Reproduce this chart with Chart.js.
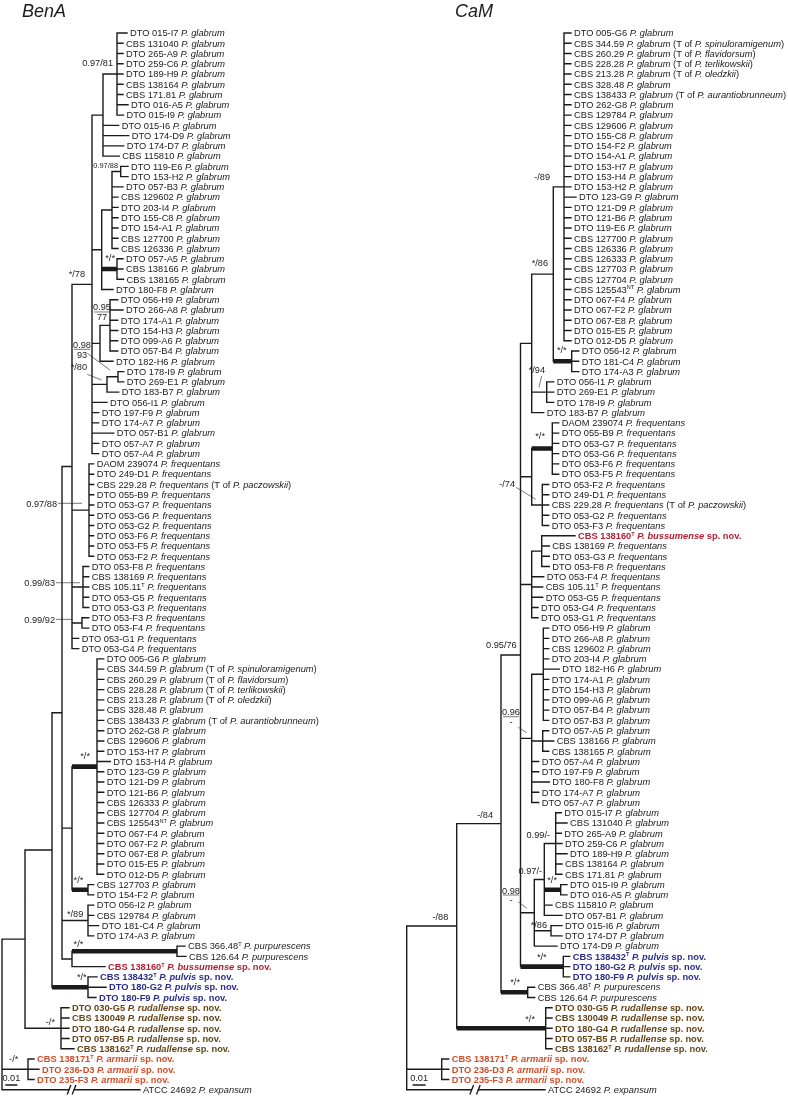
<!DOCTYPE html>
<html lang="en">
<head>
<meta charset="UTF-8">
<title>BenA and CaM phylogenies</title>
<script src="https://cdn.jsdelivr.net/npm/chart.js"></script>
<style>
  html, body { margin: 0; padding: 0; background: #fff; }
  #wrap { position: relative; width: 788px; height: 1097px; }
</style>
</head>
<body>
<div id="wrap"><canvas id="tree" width="788" height="1097"></canvas></div>
<script>
// ---------- data: leaf labels (*italic*, {superscript}) ----------
const benaLeaves = [
  "DTO 015-I7 *P. glabrum*", "CBS 131040 *P. glabrum*", "DTO 265-A9 *P. glabrum*", "DTO 259-C6 *P. glabrum*",
  "DTO 189-H9 *P. glabrum*", "CBS 138164 *P. glabrum*", "CBS 171.81 *P. glabrum*", "DTO 016-A5 *P. glabrum*",
  "DTO 015-I9 *P. glabrum*", "DTO 015-I6 *P. glabrum*", "DTO 174-D9 *P. glabrum*", "DTO 174-D7 *P. glabrum*",
  "CBS 115810 *P. glabrum*", "DTO 119-E6 *P. glabrum*", "DTO 153-H2 *P. glabrum*", "DTO 057-B3 *P. glabrum*",
  "CBS 129602 *P. glabrum*", "DTO 203-I4 *P. glabrum*", "DTO 155-C8 *P. glabrum*", "DTO 154-A1 *P. glabrum*",
  "CBS 127700 *P. glabrum*", "CBS 126336 *P. glabrum*", "DTO 057-A5 *P. glabrum*", "CBS 138166 *P. glabrum*",
  "CBS 138165 *P. glabrum*", "DTO 180-F8 *P. glabrum*", "DTO 056-H9 *P. glabrum*", "DTO 266-A8 *P. glabrum*",
  "DTO 174-A1 *P. glabrum*", "DTO 154-H3 *P. glabrum*", "DTO 099-A6 *P. glabrum*", "DTO 057-B4 *P. glabrum*",
  "DTO 182-H6 *P. glabrum*", "DTO 178-I9 *P. glabrum*", "DTO 269-E1 *P. glabrum*", "DTO 183-B7 *P. glabrum*",
  "DTO 056-I1 *P. glabrum*", "DTO 197-F9 *P. glabrum*", "DTO 174-A7 *P. glabrum*", "DTO 057-B1 *P. glabrum*",
  "DTO 057-A7 *P. glabrum*", "DTO 057-A4 *P. glabrum*",
  "DAOM 239074 *P. frequentans*", "DTO 249-D1 *P. frequentans*", "CBS 229.28 *P. frequentans* (T of *P. paczowskii*)",
  "DTO 055-B9 *P. frequentans*", "DTO 053-G7 *P. frequentans*", "DTO 053-G6 *P. frequentans*", "DTO 053-G2 *P. frequentans*",
  "DTO 053-F6 *P. frequentans*", "DTO 053-F5 *P. frequentans*", "DTO 053-F2 *P. frequentans*", "DTO 053-F8 *P. frequentans*",
  "CBS 138169 *P. frequentans*", "CBS 105.11{T} *P. frequentans*", "DTO 053-G5 *P. frequentans*", "DTO 053-G3 *P. frequentans*",
  "DTO 053-F3 *P. frequentans*", "DTO 053-F4 *P. frequentans*", "DTO 053-G1 *P. frequentans*", "DTO 053-G4 *P. frequentans*",
  "DTO 005-G6 *P. glabrum*", "CBS 344.59 *P. glabrum* (T of *P. spinuloramigenum*)", "CBS 260.29 *P. glabrum* (T of *P. flavidorsum*)",
  "CBS 228.28 *P. glabrum* (T of *P. terlikowskii*)", "CBS 213.28 *P. glabrum* (T of *P. oledzkii*)", "CBS 328.48 *P. glabrum*",
  "CBS 138433 *P. glabrum* (T of *P. aurantiobrunneum*)", "DTO 262-G8 *P. glabrum*", "CBS 129606 *P. glabrum*",
  "DTO 153-H7 *P. glabrum*", "DTO 153-H4 *P. glabrum*", "DTO 123-G9 *P. glabrum*", "DTO 121-D9 *P. glabrum*",
  "DTO 121-B6 *P. glabrum*", "CBS 126333 *P. glabrum*", "CBS 127704 *P. glabrum*", "CBS 125543{NT} *P. glabrum*",
  "DTO 067-F4 *P. glabrum*", "DTO 067-F2 *P. glabrum*", "DTO 067-E8 *P. glabrum*", "DTO 015-E5 *P. glabrum*",
  "DTO 012-D5 *P. glabrum*", "CBS 127703 *P. glabrum*", "DTO 154-F2 *P. glabrum*", "DTO 056-I2 *P. glabrum*",
  "CBS 129784 *P. glabrum*", "DTO 181-C4 *P. glabrum*", "DTO 174-A3 *P. glabrum*",
  "CBS 366.48{T} *P. purpurescens*", "CBS 126.64 *P. purpurescens*",
  "CBS 138160{T} *P. bussumense* sp. nov.",
  "CBS 138432{T} *P. pulvis* sp. nov.", "DTO 180-G2 *P. pulvis* sp. nov.", "DTO 180-F9 *P. pulvis* sp. nov.",
  "DTO 030-G5 *P. rudallense* sp. nov.", "CBS 130049 *P. rudallense* sp. nov.", "DTO 180-G4 *P. rudallense* sp. nov.",
  "DTO 057-B5 *P. rudallense* sp. nov.", "CBS 138162{T} *P. rudallense* sp. nov.",
  "CBS 138171{T} *P. armarii* sp. nov.", "DTO 236-D3 *P. armarii* sp. nov.", "DTO 235-F3 *P. armarii* sp. nov.",
  "ATCC 24692 *P. expansum*"
];

// tip depth of each leaf (1 unit = 0.01/10.7 substitutions)
const benaTips = [
  127, 123, 123, 123, 123, 123, 123, 128, 123.5, 118.7, 128.7, 123.7, 119.3,
  128, 128, 123, 118, 118, 118, 118, 118, 118, 123, 123, 123.5, 113,
  117.7, 123, 117.7, 117.7, 117.7, 117.7, 113, 123.7, 123.7, 118.7,
  107, 98.7, 98.7, 113.7, 98.7, 98.7,
  93.7, 93.7, 93.7, 93.7, 93.7, 93.7, 93.7, 93.7, 93.7, 93.7,
  88.7, 88.7, 88.7, 88.7, 88.7, 88.7, 88.7, 78.7, 78.7,
  103.7, 103.7, 103.7, 103.7, 103.7, 103.7, 103.7, 103.7, 103.7, 103.7, 110.3,
  103.7, 103.7, 103.7, 103.7, 103.7, 103.7, 103.7, 103.7, 103.7, 103.7, 103.7,
  93.7, 93.7, 93.7, 93.7, 98.7, 93.7,
  185, 186, 105, 97, 106, 96, 69, 69, 69, 69, 74, 34, 39, 34, 140
];

// clades: [first leaf, last leaf, node depth]
const benaClades = [
  [1, 9, 117], [1, 13, 103], [14, 15, 120.7], [14, 22, 112], [23, 25, 117], [14, 26, 101.7],
  [27, 32, 110], [27, 33, 100], [34, 35, 118], [34, 36, 107], [1, 42, 92], [43, 52, 89],
  [53, 57, 83], [58, 59, 82], [1, 61, 72], [62, 83, 97], [84, 85, 88], [62, 85, 72],
  [86, 89, 88], [90, 91, 177], [90, 92, 72], [1, 92, 62], [93, 95, 88], [1, 95, 52],
  [96, 100, 61], [1, 100, 25], [101, 103, 28], [1, 104, 2]
];
// clades with full support (bold branch)
const benaStrong = [4, 15, 16, 19, 22];

const camLeaves = [
  "DTO 005-G6 *P. glabrum*", "CBS 344.59 *P. glabrum* (T of *P. spinuloramigenum*)", "CBS 260.29 *P. glabrum* (T of *P. flavidorsum*)",
  "CBS 228.28 *P. glabrum* (T of *P. terlikowskii*)", "CBS 213.28 *P. glabrum* (T of *P. oledzkii*)", "CBS 328.48 *P. glabrum*",
  "CBS 138433 *P. glabrum* (T of *P. aurantiobrunneum*)", "DTO 262-G8 *P. glabrum*", "CBS 129784 *P. glabrum*",
  "CBS 129606 *P. glabrum*", "DTO 155-C8 *P. glabrum*", "DTO 154-F2 *P. glabrum*", "DTO 154-A1 *P. glabrum*",
  "DTO 153-H7 *P. glabrum*", "DTO 153-H4 *P. glabrum*", "DTO 153-H2 *P. glabrum*", "DTO 123-G9 *P. glabrum*",
  "DTO 121-D9 *P. glabrum*", "DTO 121-B6 *P. glabrum*", "DTO 119-E6 *P. glabrum*", "CBS 127700 *P. glabrum*",
  "CBS 126336 *P. glabrum*", "CBS 126333 *P. glabrum*", "CBS 127703 *P. glabrum*", "CBS 127704 *P. glabrum*",
  "CBS 125543{NT} *P. glabrum*", "DTO 067-F4 *P. glabrum*", "DTO 067-F2 *P. glabrum*", "DTO 067-E8 *P. glabrum*",
  "DTO 015-E5 *P. glabrum*", "DTO 012-D5 *P. glabrum*", "DTO 056-I2 *P. glabrum*", "DTO 181-C4 *P. glabrum*",
  "DTO 174-A3 *P. glabrum*", "DTO 056-I1 *P. glabrum*", "DTO 269-E1 *P. glabrum*", "DTO 178-I9 *P. glabrum*",
  "DTO 183-B7 *P. glabrum*",
  "DAOM 239074 *P. frequentans*", "DTO 055-B9 *P. frequentans*", "DTO 053-G7 *P. frequentans*", "DTO 053-G6 *P. frequentans*",
  "DTO 053-F6 *P. frequentans*", "DTO 053-F5 *P. frequentans*", "DTO 053-F2 *P. frequentans*", "DTO 249-D1 *P. frequentans*",
  "CBS 229.28 *P. frequentans* (T of *P. paczowskii*)", "DTO 053-G2 *P. frequentans*", "DTO 053-F3 *P. frequentans*",
  "CBS 138160{T} *P. bussumense* sp. nov.",
  "CBS 138169 *P. frequentans*", "DTO 053-G3 *P. frequentans*", "DTO 053-F8 *P. frequentans*", "DTO 053-F4 *P. frequentans*",
  "CBS 105.11{T} *P. frequentans*", "DTO 053-G5 *P. frequentans*", "DTO 053-G4 *P. frequentans*", "DTO 053-G1 *P. frequentans*",
  "DTO 056-H9 *P. glabrum*", "DTO 266-A8 *P. glabrum*", "CBS 129602 *P. glabrum*", "DTO 203-I4 *P. glabrum*",
  "DTO 182-H6 *P. glabrum*", "DTO 174-A1 *P. glabrum*", "DTO 154-H3 *P. glabrum*", "DTO 099-A6 *P. glabrum*",
  "DTO 057-B4 *P. glabrum*", "DTO 057-B3 *P. glabrum*", "DTO 057-A5 *P. glabrum*", "CBS 138166 *P. glabrum*",
  "CBS 138165 *P. glabrum*", "DTO 057-A4 *P. glabrum*", "DTO 197-F9 *P. glabrum*", "DTO 180-F8 *P. glabrum*",
  "DTO 174-A7 *P. glabrum*", "DTO 057-A7 *P. glabrum*", "DTO 015-I7 *P. glabrum*", "CBS 131040 *P. glabrum*",
  "DTO 265-A9 *P. glabrum*", "DTO 259-C6 *P. glabrum*", "DTO 189-H9 *P. glabrum*", "CBS 138164 *P. glabrum*",
  "CBS 171.81 *P. glabrum*", "DTO 015-I9 *P. glabrum*", "DTO 016-A5 *P. glabrum*", "CBS 115810 *P. glabrum*",
  "DTO 057-B1 *P. glabrum*", "DTO 015-I6 *P. glabrum*", "DTO 174-D7 *P. glabrum*", "DTO 174-D9 *P. glabrum*",
  "CBS 138432{T} *P. pulvis* sp. nov.", "DTO 180-G2 *P. pulvis* sp. nov.", "DTO 180-F9 *P. pulvis* sp. nov.",
  "CBS 366.48{T} *P. purpurescens*", "CBS 126.64 *P. purpurescens*",
  "DTO 030-G5 *P. rudallense* sp. nov.", "CBS 130049 *P. rudallense* sp. nov.", "DTO 180-G4 *P. rudallense* sp. nov.",
  "DTO 057-B5 *P. rudallense* sp. nov.", "CBS 138162{T} *P. rudallense* sp. nov.",
  "CBS 138171{T} *P. armarii* sp. nov.", "DTO 236-D3 *P. armarii* sp. nov.", "DTO 235-F3 *P. armarii* sp. nov.",
  "ATCC 24692 *P. expansum*"
];

const camTips = [
  181, 181, 181, 181, 181, 181, 181, 181, 181, 181, 181, 181, 181, 181, 181, 181, 186,
  181, 181, 181, 181, 181, 181, 181, 181, 181, 181, 181, 181, 181, 181,
  188.7, 188.7, 188.7, 163.7, 163.7, 163.7, 153.7,
  168.7, 168.7, 168.7, 168.7, 168.7, 168.7, 158.7, 158.7, 158.7, 158.7, 158.7,
  185, 159.3, 159.3, 159.3, 153.7, 152.7, 152.7, 148, 148,
  158.7, 158.7, 158.7, 158.7, 169.3, 158.7, 158.7, 158.7, 158.7, 158.7,
  158.7, 163.7, 158.7, 148.7, 148.7, 159.3, 148.7, 148.7,
  171.3, 177, 171.3, 172, 177, 172, 172, 177, 177, 162, 172, 172, 172, 167,
  179.7, 179.7, 179.7, 144.7, 144.7, 162, 162, 162, 162, 162, 58.7, 58.7, 58.7, 155
];

const camClades = [
  [1, 31, 174], [32, 34, 181.7], [1, 34, 163.3], [35, 37, 156.7], [1, 38, 141.7],
  [39, 44, 162.3], [45, 49, 152.3], [39, 49, 141.7], [50, 53, 151.7], [50, 58, 141.7],
  [59, 68, 153.3], [69, 71, 152.7], [59, 76, 141.7], [77, 83, 165.7], [84, 85, 170.7],
  [77, 87, 154.3], [88, 89, 161], [77, 90, 144.3], [91, 93, 173.3], [1, 93, 130.5],
  [94, 95, 137.7], [1, 95, 111], [96, 100, 155.7], [1, 100, 66.7], [101, 103, 51.7], [1, 104, 16.7]
];
const camStrong = [1, 5, 14, 18, 20, 22];

// support values: [text, right edge depth, row]
const benaSupport = [
  ["0.97/81", 113, 3.92], ["*/*", 115, 22.93], ["*/78", 85, 24.49], ["*/80", 87, 33.52],
  ["0.97/88", 57, 46.84], ["0.99/83", 55, 54.58], ["0.99/92", 55, 58.15], ["*/*", 90, 71.47],
  ["*/*", 83.3, 83.55], ["*/89", 83.3, 86.8], ["*/*", 83.3, 89.72], ["*/*", 86.7, 92.98],
  ["-/*", 55, 97.36], ["-/*", 18.3, 100.93]
];
const benaSmallSupport = [["0.97/88", 118, 13.93]];
// stacked values: [posterior, bootstrap, centre depth, row of bar]
const benaStacked = [["0.95", "77", 102, 28.19], ["0.98", "93", 82, 31.83]];
const benaLeaders = [[87.3, 32.22, 110, 33.85], [87.3, 34.27, 101.7, 34.82], [58, 46.84, 82, 46.84],
  [56, 54.58, 80, 54.58], [56, 58.15, 71.7, 58.15]];

const camSupport = [
  ["-/89", 160, 15.04], ["*/86", 158, 23.42], ["*/*", 176.7, 31.9], ["*/94", 155, 33.85],
  ["*/*", 155, 40.25], ["-/74", 125, 44.89], ["0.95/76", 126.7, 60.65], ["-/84", 103, 77.22],
  ["0.99/-", 160, 79.17], ["0.97/-", 152, 82.68], ["*/*", 167, 83.55], ["*/86", 157, 87.87],
  ["*/*", 156.7, 91.03], ["*/*", 130, 93.47], ["-/88", 58.3, 87.13], ["*/*", 145, 97.1]
];
const camStacked = [["0.96", "-", 121, 67.64], ["0.98", "-", 121, 85.02]];
const camLeaders = [[151.7, 34.43, 149, 35.53], [126, 45.28, 145.7, 46.45],
  [128.3, 68.67, 136.7, 69.2], [128.3, 85.67, 136.7, 86.31]];

// scale bars: [label, start, end, row]
const benaScale = ["0.01", 6, 16.7, 103.53];
const camScale = ["0.01", 23.3, 35, 103.53];

// ---------- layout / style ----------
const W = 788, H = 1097, ROW_PX = 10.26, FIRST_Y = 33;
const Y_MIN = 1 - FIRST_Y / ROW_PX, Y_MAX = Y_MIN + H / ROW_PX;
const INK = '#1c1a1b';
const FONT = '"Liberation Sans", Arial, Helvetica, sans-serif';
const LEAF_SIZE = 9.3;
const speciesColor = { bussumense: '#b31f32', pulvis: '#2b2d8a', rudallense: '#634519', armarii: '#d24d2a' };

const panels = [
  { title: 'BenA', off: 0, titleX: 22, leaves: benaLeaves, tips: benaTips, clades: benaClades, strong: benaStrong,
    support: benaSupport, small: benaSmallSupport, stacked: benaStacked, leaders: benaLeaders, scale: benaScale, gap: [69, 74] },
  { title: 'CaM', off: 390, titleX: 65, leaves: camLeaves, tips: camTips, clades: camClades, strong: camStrong,
    support: camSupport, small: [], stacked: camStacked, leaders: camLeaders, scale: camScale, gap: [81.7, 88.3] }
];

function buildTree(p) {
  const nodes = p.clades.map((c, i) => ({ a: c[0], b: c[1], x: c[2], strong: p.strong.includes(i), kids: [] }));
  const size = nd => nd.b - nd.a;
  const parentOf = (a, b, self) => {
    let best = -1;
    nodes.forEach((nd, j) => {
      if (j === self || nd.a > a || nd.b < b) return;
      if (best < 0 || size(nd) < size(nodes[best])) best = j;
    });
    return best;
  };
  nodes.forEach((nd, i) => {
    const par = parentOf(nd.a, nd.b, i);
    if (par >= 0) nodes[par].kids.push({ clade: i, first: nd.a });
  });
  p.tips.forEach((t, k) => {
    const par = parentOf(k + 1, k + 1, -1);
    nodes[par].kids.push({ leaf: k + 1, first: k + 1 });
  });
  const kidY = k => ('leaf' in k) ? k.leaf : nodes[k.clade].y;
  const kidX = k => ('leaf' in k) ? p.tips[k.leaf - 1] : nodes[k.clade].x;
  nodes.map((_, i) => i).sort((u, v) => size(nodes[u]) - size(nodes[v])).forEach(i => {
    const nd = nodes[i];
    nd.kids.sort((u, v) => u.first - v.first);
    nd.y = (kidY(nd.kids[0]) + kidY(nd.kids[nd.kids.length - 1])) / 2;
  });

  const thin = [], thick = [];
  const last = p.tips.length;
  nodes.forEach(nd => {
    thin.push([nd.x, kidY(nd.kids[0]), nd.x, kidY(nd.kids[nd.kids.length - 1])]);
    nd.kids.forEach(k => {
      const y = kidY(k), x2 = kidX(k);
      if ('clade' in k && nodes[k.clade].strong) thick.push([nd.x, y, x2, y]);
      else if (k.leaf === last) {
        const [g0, g1] = p.gap;
        thin.push([nd.x, y, g0, y], [g1, y, x2, y],
          [g0 - 1.6, y + 0.4, g0 + 1.6, y - 0.4], [g1 - 1.6, y + 0.4, g1 + 1.6, y - 0.4]);
      } else thin.push([nd.x, y, x2, y]);
    });
  });
  return { thin, thick };
}

function toPoints(segs, off) {
  const pts = [];
  segs.forEach(s => {
    pts.push({ x: s[0] + off, y: s[1] }, { x: s[2] + off, y: s[3] }, { x: null, y: null });
  });
  return pts;
}

const thinSegs = [], thickSegs = [], noteSegs = [];
panels.forEach(p => {
  const t = buildTree(p);
  thinSegs.push(...toPoints(t.thin, p.off));
  thickSegs.push(...toPoints(t.thick, p.off));
  thinSegs.push(...toPoints([[p.scale[1], p.scale[3], p.scale[2], p.scale[3]]], p.off));
  noteSegs.push(...toPoints(p.leaders, p.off));
  noteSegs.push(...toPoints(p.stacked.map(s => [s[2] - 8, s[3], s[2] + 8, s[3]]), p.off));
});

function parseRuns(label) {
  const runs = [];
  let italic = false, buf = '';
  const flush = () => { if (buf) runs.push({ t: buf, italic, sup: false }); buf = ''; };
  for (let i = 0; i < label.length; i++) {
    const ch = label[i];
    if (ch === '*') { flush(); italic = !italic; }
    else if (ch === '{') {
      flush();
      const j = label.indexOf('}', i);
      runs.push({ t: label.slice(i + 1, j), italic: false, sup: true });
      i = j;
    } else buf += ch;
  }
  flush();
  return runs;
}

function drawRich(ctx, label, x, y, size, bold, color) {
  ctx.fillStyle = color;
  ctx.textAlign = 'left';
  ctx.textBaseline = 'alphabetic';
  let cx = x;
  parseRuns(label).forEach(r => {
    const s = r.sup ? size * 0.6 : size;
    ctx.font = (r.italic ? 'italic ' : '') + (bold ? 'bold ' : '') + s + 'px ' + FONT;
    ctx.fillText(r.t, cx, r.sup ? y - size * 0.36 : y);
    cx += ctx.measureText(r.t).width;
  });
}

const treeText = {
  id: 'treeText',
  afterDatasetsDraw(chart) {
    const { ctx, scales } = chart;
    const px = v => scales.x.getPixelForValue(v);
    const py = v => scales.y.getPixelForValue(v);
    ctx.save();
    panels.forEach(p => {
      // title
      ctx.fillStyle = INK;
      ctx.font = 'italic 18px ' + FONT;
      ctx.textAlign = 'left';
      ctx.textBaseline = 'alphabetic';
      ctx.fillText(p.title, px(p.titleX + p.off), py(-0.56));
      // leaves
      p.leaves.forEach((lab, i) => {
        const sp = Object.keys(speciesColor).find(k => lab.includes(k));
        drawRich(ctx, lab, px(p.tips[i] + p.off) + 3, py(i + 1) + 3.3, LEAF_SIZE, !!sp, sp ? speciesColor[sp] : INK);
      });
      // support values
      ctx.fillStyle = INK;
      ctx.textAlign = 'right';
      ctx.font = '9.2px ' + FONT;
      p.support.forEach(s => ctx.fillText(s[0], px(s[1] + p.off), py(s[2]) + 3.3));
      ctx.font = '7.4px ' + FONT;
      p.small.forEach(s => ctx.fillText(s[0], px(s[1] + p.off), py(s[2]) + 2.7));
      ctx.textAlign = 'center';
      ctx.font = '9.2px ' + FONT;
      p.stacked.forEach(s => {
        ctx.fillText(s[0], px(s[2] + p.off), py(s[3]) - 1.5);
        ctx.fillText(s[1], px(s[2] + p.off), py(s[3]) + 8.2);
      });
      // scale label
      ctx.fillText(p.scale[0], px((p.scale[1] + p.scale[2]) / 2 + p.off), py(p.scale[3]) - 4);
    });
    ctx.restore();
  }
};

new Chart(document.getElementById('tree'), {
  type: 'scatter',
  data: {
    datasets: [
      { data: thinSegs, showLine: true, spanGaps: false, borderColor: INK, borderWidth: 1.4, borderCapStyle: 'square', pointRadius: 0 },
      { data: thickSegs, showLine: true, spanGaps: false, borderColor: INK, borderWidth: 4.6, borderCapStyle: 'butt', pointRadius: 0 },
      { data: noteSegs, showLine: true, spanGaps: false, borderColor: '#555', borderWidth: 0.8, borderCapStyle: 'butt', pointRadius: 0 }
    ]
  },
  options: {
    responsive: false,
    animation: false,
    events: [],
    layout: { padding: 0 },
    plugins: { legend: { display: false }, tooltip: { enabled: false }, title: { display: false } },
    scales: {
      x: { type: 'linear', min: 0, max: W, display: false },
      y: { type: 'linear', min: Y_MIN, max: Y_MAX, reverse: true, display: false }
    },
    elements: { line: { tension: 0 }, point: { radius: 0, hitRadius: 0 } }
  },
  plugins: [treeText]
});
</script>
</body>
</html>
